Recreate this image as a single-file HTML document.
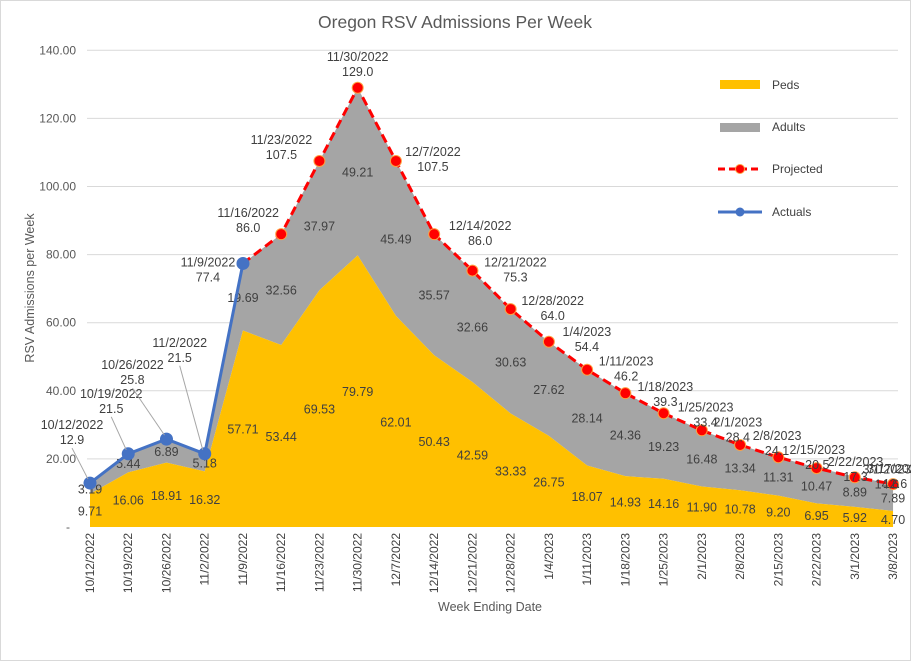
<!DOCTYPE html>
<html><head><meta charset="utf-8"><style>
body{margin:0;background:#fff;font-family:"Liberation Sans",Arial,sans-serif}
svg{display:block}
</style></head><body>
<svg id="c" width="911" height="661"></svg>
<script>
const categories=["10/12/2022","10/19/2022","10/26/2022","11/2/2022","11/9/2022","11/16/2022","11/23/2022","11/30/2022","12/7/2022","12/14/2022","12/21/2022","12/28/2022","1/4/2023","1/11/2023","1/18/2023","1/25/2023","2/1/2023","2/8/2023","2/15/2023","2/22/2023","3/1/2023","3/8/2023"];
const peds=[9.71,16.06,18.91,16.32,57.71,53.44,69.53,79.79,62.01,50.43,42.59,33.33,26.75,18.07,14.93,14.16,11.90,10.78,9.20,6.95,5.92,4.70];
const adults=[3.19,5.44,6.89,5.18,19.69,32.56,37.97,49.21,45.49,35.57,32.66,30.63,27.62,28.14,24.36,19.23,16.48,13.34,11.31,10.47,8.89,7.89];
const actuals=[12.9,21.5,25.8,21.5,77.4];
const projected=[null,null,null,null,77.4,86.0,107.5,129.0,107.5,86.0,75.3,64.0,54.4,46.2,39.3,33.4,28.4,24.1,20.5,17.3,14.6,12.6];
const pointLabels=["10/12/2022","10/19/2022","10/26/2022","11/2/2022","11/9/2022","11/16/2022","11/23/2022","11/30/2022","12/7/2022","12/14/2022","12/21/2022","12/28/2022","1/4/2023","1/11/2023","1/18/2023","1/25/2023","2/1/2023","2/8/2023","2/15/2023","2/22/2023","3/1/2023","3/17/2023"];
const yTicks=[0,20,40,60,80,100,120,140];
const yTickLabels=["-","20.00","40.00","60.00","80.00","100.00","120.00","140.00"];

const svg=document.getElementById('c');
const NS='http://www.w3.org/2000/svg';
const X0=90,XS=38.24,Y0=527,YK=3.405;
const x=i=>X0+i*XS, y=v=>Y0-v*YK;
function mk(t,a,p){const e=document.createElementNS(NS,t);for(const k in a)e.setAttribute(k,a[k]);(p||svg).appendChild(e);return e;}
function txt(s,a,p){const e=mk('text',a,p);e.textContent=s;return e;}
const FS=12.5;

mk('rect',{x:0.5,y:0.5,width:910,height:660,fill:'#fff',stroke:'#d9d9d9'});
const title=txt('Oregon RSV Admissions Per Week',{x:455,y:28,'text-anchor':'middle','font-size':17.5,fill:'#595959'});


yTicks.forEach((v,i)=>{
  if(v>0){const g=mk('line',{x1:87,x2:898,y1:y(v),y2:y(v),stroke:'#d9d9d9'});
  }
  const t=txt(yTickLabels[i],{x:i?76:70,y:y(v)+4,'text-anchor':'end','font-size':12,fill:'#595959'});
  
});
const yt=txt('RSV Admissions per Week',{x:0,y:0,transform:'translate(34,288) rotate(-90)','text-anchor':'middle','font-size':12.5,fill:'#595959'});


let pp='M'+x(0)+','+Y0;peds.forEach((v,i)=>pp+=' L'+x(i)+','+y(v));pp+=' L'+x(peds.length-1)+','+Y0+'Z';
let ap='M'+x(0)+','+y(peds[0]);peds.forEach((v,i)=>ap+=' L'+x(i)+','+y(v+adults[i]));
for(let i=peds.length-1;i>=0;i--)ap+=' L'+x(i)+','+y(peds[i]);ap+='Z';
const aa=mk('path',{d:ap,fill:'#a5a5a5'});
const pa=mk('path',{d:pp,fill:'#ffc000'});

peds.forEach((v,i)=>{
  const t=txt(v.toFixed(2),{x:x(i),y:y(v/2)+5,'text-anchor':'middle','font-size':FS,fill:'#404040'});
  
  const u=txt(adults[i].toFixed(2),{x:x(i),y:y(v+adults[i]/2)+5,'text-anchor':'middle','font-size':FS,fill:'#404040'});
  
});

categories.forEach((c,i)=>{
  const t=txt(c,{x:0,y:0,transform:`translate(${x(i)+4},533) rotate(-90)`,'text-anchor':'end','font-size':12,fill:'#404040'});
  
});
const xt=txt('Week Ending Date',{x:490,y:611,'text-anchor':'middle','font-size':12.5,fill:'#595959'});


let pl='';projected.forEach((v,i)=>{if(v!=null)pl+=(pl?' L':'M')+x(i)+','+y(v);});
const pline=mk('path',{d:pl,fill:'none',stroke:'#ff0000','stroke-width':3,'stroke-dasharray':'9,5'});

projected.forEach((v,i)=>{if(v!=null&&i>4){const m=mk('circle',{cx:x(i),cy:y(v),r:5.5,fill:'#ff0000',stroke:'#ffa040','stroke-width':1});
  }});
let al='';actuals.forEach((v,i)=>al+=(i?' L':'M')+x(i)+','+y(v));
const aline=mk('path',{d:al,fill:'none',stroke:'#4472c4','stroke-width':3});

actuals.forEach((v,i)=>{const m=mk('circle',{cx:x(i),cy:y(v),r:6.5,fill:'#4472c4'});
  });

const offs=[[-18,-50,1],[-17,-52,1],[-34,-66,1],[-25,-103,1],[-35,7,0],[-33,-13,0],[-38,-13,0],[0,-23,0],[37,-1,0],[46,0,0],[43,0,0],[42,0,0],[38,-2,0],[39,0,0],[40,2,0],[42,2,0],[36,0,0],[37,-1,0],[39,1,0],[39,2,0],[32,0,0],[2,-7,0]];
function vf(i){return (i<5?actuals[i]:projected[i]).toFixed(1);}
categories.forEach((c,i)=>{
  const v=i<5?actuals[i]:projected[i];const mx=x(i),my=y(v);const [dx,dy,ld]=offs[i];
  const cx=mx+dx,cy=my+dy;
  if(ld){const l=mk('line',{x1:cx,y1:cy+15,x2:mx-2,y2:my-4,stroke:'#a6a6a6'});
    }
  const a=txt(pointLabels[i],{x:cx,y:cy-4,'text-anchor':'middle','font-size':FS,fill:'#404040'});
  
  const b=txt(vf(i),{x:cx,y:cy+11,'text-anchor':'middle','font-size':FS,fill:'#404040'});
  
});

const lg=mk('g',{});
const r1=mk('rect',{x:720,y:80,width:40,height:9,fill:'#ffc000'},lg);
const t1=txt('Peds',{x:772,y:89,'font-size':12,fill:'#404040'},lg);
const r2=mk('rect',{x:720,y:123,width:40,height:9,fill:'#a5a5a5'},lg);
const t2=txt('Adults',{x:772,y:131,'font-size':12,fill:'#404040'},lg);
const l3=mk('line',{x1:718,x2:762,y1:169,y2:169,stroke:'#ff0000','stroke-width':3,'stroke-dasharray':'7,4'},lg);
const c3=mk('circle',{cx:740,cy:169,r:4.5,fill:'#ff0000',stroke:'#ffa040'},lg);
const t3=txt('Projected',{x:772,y:173,'font-size':12,fill:'#404040'},lg);
const l4=mk('line',{x1:718,x2:762,y1:212,y2:212,stroke:'#4472c4','stroke-width':3},lg);
const c4=mk('circle',{cx:740,cy:212,r:4.5,fill:'#4472c4'},lg);
const t4=txt('Actuals',{x:772,y:216,'font-size':12,fill:'#404040'},lg);
</script>
</body></html>
